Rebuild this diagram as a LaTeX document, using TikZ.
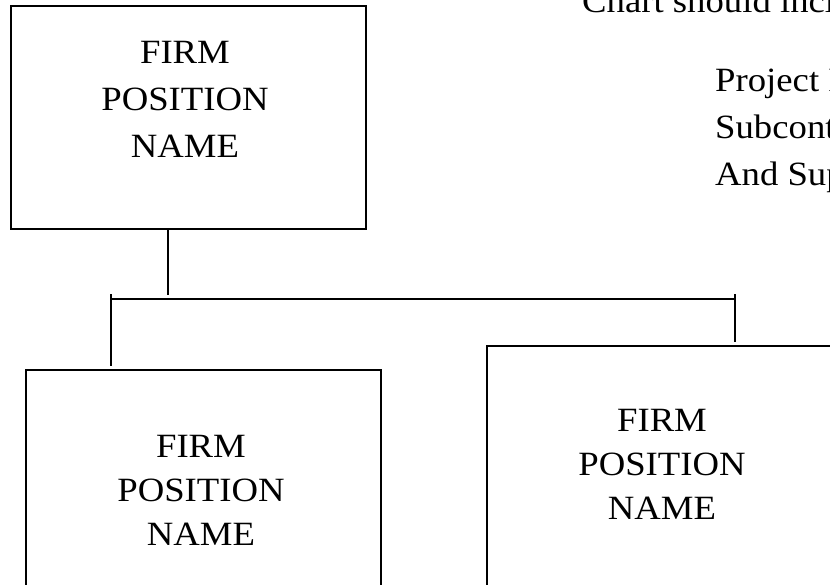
\documentclass[tikz,border=0pt]{standalone}
\usepackage{fontspec}
\setmainfont[FakeStretch=1.08]{Liberation Serif}
\begin{document}
\begin{tikzpicture}[x=1pt,y=1pt,
  box/.style={draw=black, line width=1.9pt, rectangle, inner sep=0pt, anchor=north west},
  conn/.style={draw=black, line width=1.7pt},
  lbl/.style={align=center, inner sep=0pt, anchor=base},
  txt/.style={inner sep=0pt, anchor=base west, font=\fontsize{34}{47}\selectfont}]
\useasboundingbox (0,0) rectangle (830,-584);
\clip (0,0) rectangle (830,-584);
% boxes
\node[box, minimum width=355pt, minimum height=223pt] (top) at (10,-5) {};
\node[box, minimum width=355pt, minimum height=300pt] (left) at (25,-369) {};
\node[box, minimum width=400pt, minimum height=300pt] (right) at (486,-345) {};
% labels (base anchor = baseline of last line)
\node[lbl, font=\fontsize{34}{47}\selectfont] (ttop) at (185,-157) {FIRM\\POSITION\\NAME};
\node[lbl, font=\fontsize{34}{44}\selectfont] (tleft) at (201,-545) {FIRM\\POSITION\\NAME};
\node[lbl, font=\fontsize{34}{44}\selectfont] (tright) at (662,-519) {FIRM\\POSITION\\NAME};
% note text (cut off at the right edge, as in the reference)
\node[txt] (n1) at (582,-12) {Chart should incl};
\node[txt] (n2) at (715,-91) {Project M};
\node[txt] (n3) at (715,-138) {Subcontr};
\node[txt] (n4) at (715,-185) {And Supp};
% connectors
\coordinate (j) at (168,-295);
\coordinate (bl) at (111,-299);
\coordinate (br) at (735,-299);
\coordinate (blt) at (111,-294);
\coordinate (brt) at (735,-294);
\coordinate (lend) at (111,-366);
\coordinate (rend) at (735,-342);
\draw[conn] (top.south -| j) -- (j);
\draw[conn] (bl) -- (br);
\draw[conn] (blt) -- (lend);
\draw[conn] (brt) -- (rend);
\end{tikzpicture}
\end{document}
